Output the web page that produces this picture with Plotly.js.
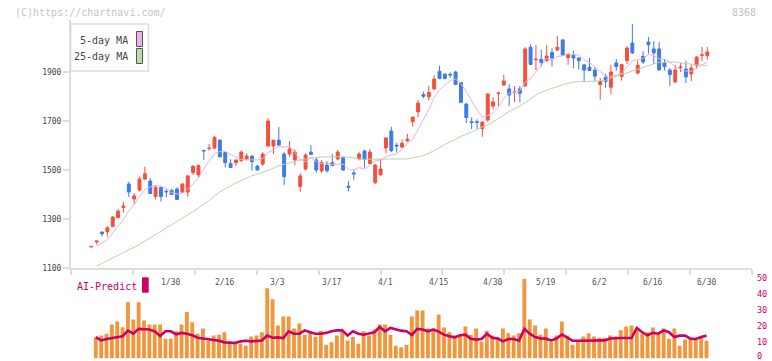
<!DOCTYPE html>
<html>
<head>
<meta charset="utf-8">
<script src="https://cdn.plot.ly/plotly-3.0.1.min.js"></script>
<style>
  html, body { margin: 0; padding: 0; background: #ffffff; }
  #chart { width: 772px; height: 361px; }
</style>
</head>
<body>
<div id="chart"></div>
<script>
// ---- daily prices (oldest first) ----
const openPx = [1186,1206,1247,1248,1269,1305,1347,1443,1382,1418,1463,1455,1392,1429,1413,1416,1422,1410,1410,1489,
  1480,1580,1587,1589,1622,1571,1527,1530,1539,1545,1557,1516,1524,1598,1598,1622,1565,1565,1541,1432,
  1504,1573,1541,1496,1520,1530,1545,1550,1434,1488,1545,1578,1526,1448,1480,1590,1659,1601,1594,1620,
  1697,1737,1808,1799,1831,1903,1891,1891,1900,1857,1769,1697,1697,1669,1704,1761,1812,1847,1831,1816,
  1831,1843,2001,1950,1952,1947,1980,1990,2031,1959,1969,1957,1929,1919,1908,1849,1879,1838,1937,1882,
  1947,2018,1896,1964,2022,1994,1994,1937,1908,1859,1918,1912,1892,1927,1968,1967];
const highPx = [1189,1210,1248,1271,1312,1341,1371,1452,1406,1473,1513,1467,1439,1431,1421,1424,1429,1445,1478,1518,
  1520,1581,1606,1640,1624,1575,1544,1542,1579,1568,1559,1522,1573,1712,1622,1676,1573,1618,1584,1486,
  1568,1602,1552,1541,1537,1565,1582,1553,1455,1500,1573,1579,1586,1524,1545,1633,1677,1611,1625,1647,
  1716,1786,1820,1843,1888,1926,1895,1898,1905,1857,1775,1715,1707,1696,1813,1797,1820,1888,1850,1843,
  1843,2001,2013,2010,1991,2010,1997,2047,2035,1975,1987,1961,1933,1957,1919,1876,1892,1930,1953,1933,
  2005,2096,1947,1984,2043,2027,2022,1953,1916,1930,1937,1946,1930,1964,2002,2002];
const lowPx = [1185,1197,1228,1228,1267,1304,1326,1390,1361,1412,1459,1402,1380,1371,1388,1398,1378,1406,1391,1480,
  1471,1541,1579,1588,1551,1510,1510,1516,1532,1539,1497,1499,1516,1593,1565,1598,1439,1554,1520,1412,
  1497,1563,1489,1489,1489,1516,1539,1497,1412,1459,1539,1510,1524,1443,1477,1568,1573,1571,1589,1614,
  1677,1715,1793,1784,1827,1871,1871,1876,1847,1776,1691,1667,1667,1636,1697,1748,1759,1843,1761,1777,
  1775,1839,1929,1908,1922,1941,1922,1986,1965,1929,1915,1910,1859,1904,1862,1787,1835,1810,1906,1865,
  1933,1973,1890,1933,1975,1933,1908,1906,1843,1857,1900,1855,1862,1914,1944,1950];
const closePx = [1188,1210,1240,1264,1308,1332,1353,1410,1394,1463,1485,1404,1429,1392,1411,1400,1380,1443,1476,1516,
  1519,1578,1589,1633,1554,1530,1510,1541,1573,1557,1534,1500,1565,1700,1622,1602,1473,1586,1573,1476,
  1561,1563,1500,1530,1497,1518,1573,1500,1430,1484,1565,1543,1573,1520,1504,1631,1579,1598,1609,1626,
  1716,1773,1801,1816,1871,1873,1873,1888,1849,1776,1714,1694,1694,1696,1810,1778,1814,1863,1806,1818,
  1813,1994,1931,1952,1939,1965,1957,2001,1969,1973,1957,1946,1908,1906,1883,1862,1861,1900,1922,1930,
  1998,1978,1927,1941,2012,1978,1908,1922,1890,1908,1920,1880,1916,1961,1970,1982];

// ---- moving averages ----
const ma5 = [null,1190,1201,1216,1242,1271,1299,1333,1359,1390,1421,1431,1435,1435,1424,1407,1402,1405,1422,1443,
  1467,1506,1536,1567,1575,1577,1563,1554,1542,1542,1543,1541,1546,1571,1584,1598,1592,1597,1571,1542,
  1534,1552,1535,1526,1530,1522,1524,1524,1504,1501,1510,1504,1519,1537,1541,1554,1561,1566,1584,1609,
  1626,1664,1705,1746,1795,1827,1847,1864,1871,1852,1820,1784,1745,1715,1722,1734,1758,1792,1814,1816,
  1823,1859,1872,1902,1926,1956,1949,1963,1966,1973,1971,1969,1951,1938,1920,1901,1884,1882,1886,1895,
  1922,1946,1951,1955,1971,1967,1953,1952,1942,1921,1910,1904,1903,1917,1929,1942];
const ma25 = [null,1108,1119,1130,1140,1151,1161,1171,1182,1196,1210,1224,1238,1251,1264,1277,1290,1303,1316,1330,
  1344,1360,1377,1395,1411,1423,1436,1448,1457,1467,1477,1483,1489,1498,1507,1517,1523,1530,1537,1541,
  1545,1549,1551,1553,1554,1554,1554,1554,1552,1548,1545,1544,1544,1544,1544,1544,1544,1544,1545,1545,
  1549,1553,1559,1568,1578,1591,1604,1616,1627,1637,1646,1655,1664,1674,1685,1696,1711,1727,1739,1750,
  1761,1775,1790,1806,1818,1826,1835,1842,1848,1854,1859,1860,1862,1863,1863,1864,1866,1875,1884,1890,
  1897,1904,1912,1920,1927,1934,1940,1940,1941,1941,1937,1934,1930,1929,1928,1927];

// ---- AI-Predict panel (starts on the second session) ----
const aiBars = [13.2,14.3,15.5,21.2,23.1,19.5,35.1,24.4,35.1,23.7,21.2,21.2,21.2,12.4,12.4,17.0,21.2,29.0,22.7,15.5,
  18.7,11.1,14.3,14.9,16.4,10.7,10.7,9.2,8.0,13.7,14.3,16.4,43.9,37.0,20.6,26.3,26.3,18.7,21.8,14.9,
  17.0,13.4,17.4,8.6,10.1,14.3,17.0,11.3,13.4,9.2,17.0,14.3,18.1,21.2,21.2,14.9,8.0,7.1,8.6,26.3,
  30.0,30.0,18.7,18.7,27.5,19.3,16.4,14.3,14.3,20.0,14.9,18.7,10.7,17.4,14.3,13.2,18.7,15.8,14.3,15.8,
  50.0,24.4,20.6,14.9,18.7,10.7,14.3,23.1,14.3,8.6,10.7,13.7,15.8,13.7,13.0,13.0,14.3,13.7,17.6,20.0,
  20.6,17.4,15.5,16.4,19.3,15.1,18.7,12.4,18.7,8.0,11.8,11.8,11.8,13.0,11.1];
const aiLine = [13.4,11.3,12.2,12.8,13.4,13.9,17.4,15.5,18.5,18.1,18.1,17.0,14.1,17.0,17.0,15.1,16.0,15.5,14.5,13.0,
  12.6,12.2,11.6,11.1,10.1,10.1,9.7,10.7,11.1,10.7,10.9,11.3,14.3,13.0,13.2,12.8,17.0,15.5,15.5,17.6,
  16.4,15.5,15.5,16.0,17.0,17.6,17.6,14.3,17.0,15.5,14.9,15.8,16.4,19.7,17.0,19.1,18.1,17.4,17.0,14.7,
  18.5,18.1,17.0,18.1,16.8,14.9,13.9,13.2,14.5,14.9,12.4,11.8,12.2,15.5,13.0,12.6,10.7,12.2,12.2,11.1,
  18.5,15.5,13.4,12.6,12.4,11.3,12.5,15.0,13.0,11.1,11.1,11.1,11.1,11.1,11.1,11.3,12.5,12.8,12.8,12.8,
  12.8,19.1,16.4,14.5,16.0,15.5,17.6,16.4,13.4,14.3,14.3,12.4,12.2,13.4,14.3];
const aiScale = [0, 10, 20, 30, 40, 50];

// ---- date labels under the price panel ----
const dateLabels = ['1/30','2/16','3/3','3/17','4/1','4/15','4/30','5/19','6/2','6/16','6/30'];
const dateIndex  = [15,25,35,45,55,65,75,85,95,105,115];

// ---- page geometry helpers (pixel -> paper) ----
const W = 772, H = 361;
const fx = p => p / W;
const fy = p => 1 - p / H;

const idx = openPx.map((_, i) => i);
const aiIdx = aiBars.map((_, k) => k + 1);

const MONO = 'DejaVu Sans Mono, Liberation Mono, monospace';
const RED = '#f2503c', BLUE = '#3d7be8';
const PINK = '#e6b0e6', GREEN = '#b2d9a2';
const MAGENTA = '#cc0066', ORANGE = '#f0963c';

// x range of the price panel: candle i sits at 91.3 + 5.357*i px, plot spans 71..752 px
const step = 5.357, x0px = 91.3;
const xr = [(71 - x0px) / step, (752 - x0px) / step];
const xr2 = [xr[0] + 0.16, xr[1] + 0.16];
const gridTicks = [];
for (let k = 0; k <= 11; k++) gridTicks.push(xr[0] + (xr[1] - xr[0]) * k / 11);

// lower panel: value 0 sits at 358.5 px, 50 at 278.5 px
const lowBase = 358.5, lowTop = 278.5;

const traces = [
  {
    type: 'candlestick', x: idx, open: openPx, high: highPx, low: lowPx, close: closePx,
    increasing: { line: { color: RED, width: 1 }, fillcolor: RED },
    decreasing: { line: { color: BLUE, width: 1 }, fillcolor: BLUE },
    whiskerwidth: 0, hoverinfo: 'skip', showlegend: false, xaxis: 'x', yaxis: 'y'
  },
  { type: 'scatter', mode: 'lines', x: idx, y: ma25, line: { color: GREEN, width: 1 },
    hoverinfo: 'skip', showlegend: false, xaxis: 'x', yaxis: 'y' },
  { type: 'scatter', mode: 'lines', x: idx, y: ma5, line: { color: PINK, width: 1 },
    hoverinfo: 'skip', showlegend: false, xaxis: 'x', yaxis: 'y' },
  { type: 'bar', x: aiIdx, y: aiBars, width: 0.72, marker: { color: ORANGE, line: { width: 0 } },
    hoverinfo: 'skip', showlegend: false, xaxis: 'x2', yaxis: 'y2' },
  { type: 'scatter', mode: 'lines', x: aiIdx, y: aiLine, line: { color: MAGENTA, width: 2.6 },
    hoverinfo: 'skip', showlegend: false, xaxis: 'x2', yaxis: 'y2' }
];

const annotations = [
  { text: '(C)https://chartnavi.com/', xref: 'paper', yref: 'paper', x: fx(13), y: fy(12),
    xanchor: 'left', yanchor: 'middle', showarrow: false, font: { family: MONO, size: 10, color: '#c4c4c4' } },
  { text: '8368', xref: 'paper', yref: 'paper', x: fx(758), y: fy(12),
    xanchor: 'right', yanchor: 'middle', showarrow: false, font: { family: MONO, size: 10, color: '#c4c4c4' } },
  { text: '5-day MA', xref: 'paper', yref: 'paper', x: fx(130), y: fy(40.5),
    xanchor: 'right', yanchor: 'middle', showarrow: false, font: { family: MONO, size: 10, color: '#444' } },
  { text: '25-day MA', xref: 'paper', yref: 'paper', x: fx(130), y: fy(56.5),
    xanchor: 'right', yanchor: 'middle', showarrow: false, font: { family: MONO, size: 10, color: '#444' } },
  { text: 'AI-Predict', xref: 'paper', yref: 'paper', x: fx(75), y: fy(286),
    xanchor: 'left', yanchor: 'middle', showarrow: false, font: { family: MONO, size: 10, color: MAGENTA } }
];
dateLabels.forEach((t, j) => annotations.push({
  text: t, xref: 'x2', yref: 'paper', x: dateIndex[j], y: fy(282.5),
  xanchor: 'center', yanchor: 'middle', showarrow: false, font: { family: MONO, size: 8, color: '#555' }
}));
// right-hand scale of the lower panel (the bottom label is nudged up to stay on the page)
aiScale.forEach(v => {
  const yPx = Math.min(lowBase - (lowBase - lowTop) * v / 50 - 0.3, 355.6);
  annotations.push({
    text: String(v), xref: 'paper', yref: 'paper', x: fx(755), y: fy(yPx),
    xanchor: 'left', yanchor: 'middle', showarrow: false, font: { family: MONO, size: 8.5, color: MAGENTA }
  });
});

const shapes = [
  { type: 'rect', xref: 'paper', yref: 'paper', x0: fx(70.7), x1: fx(148.3), y0: fy(24), y1: fy(71),
    line: { color: '#dddddd', width: 1.5 }, fillcolor: '#ffffff', layer: 'above' },
  { type: 'rect', xref: 'paper', yref: 'paper', x0: fx(136.5), x1: fx(142.5), y0: fy(31.5), y1: fy(46.5),
    line: { color: '#555555', width: 1 }, fillcolor: '#e8b4e8', layer: 'above' },
  { type: 'rect', xref: 'paper', yref: 'paper', x0: fx(136.5), x1: fx(142.5), y0: fy(48.5), y1: fy(63.5),
    line: { color: '#555555', width: 1 }, fillcolor: '#b8dcaa', layer: 'above' },
  { type: 'rect', xref: 'paper', yref: 'paper', x0: fx(142), x1: fx(148.7), y0: fy(277.3), y1: fy(292.7),
    line: { width: 0 }, fillcolor: MAGENTA, layer: 'above' }
];

const layout = {
  width: W, height: H,
  margin: { l: 0, r: 0, t: 0, b: 0, pad: 0 },
  paper_bgcolor: '#ffffff', plot_bgcolor: 'rgba(0,0,0,0)',
  showlegend: false,
  boxgap: 0.22,
  xaxis: {
    domain: [fx(71), fx(752)], range: xr, anchor: 'y',
    rangeslider: { visible: false },
    showline: true, linecolor: '#dddddd', linewidth: 2,
    ticks: 'outside', tickvals: gridTicks, ticklen: 5, tickwidth: 2, tickcolor: '#dddddd',
    showticklabels: false, showgrid: false, zeroline: false, fixedrange: true
  },
  yaxis: {
    domain: [fy(268), fy(20)], range: [1100, 1100 + 248 * 200 / 49], anchor: 'x',
    showline: true, linecolor: '#dddddd', linewidth: 2,
    ticks: 'outside', tickvals: [1100, 1300, 1500, 1700, 1900], ticklen: 6, tickwidth: 1.5, tickcolor: '#dddddd',
    tickfont: { family: MONO, size: 8, color: '#444' },
    showgrid: false, zeroline: false, fixedrange: true
  },
  xaxis2: {
    domain: [fx(71), fx(752)], range: xr2, anchor: 'y2',
    showline: false, ticks: '', showticklabels: false, showgrid: false, zeroline: false, fixedrange: true
  },
  yaxis2: {
    domain: [fy(lowBase), fy(lowTop)], range: [0, 50], anchor: 'x2', side: 'right',
    showline: false, ticks: '', showticklabels: false,
    showgrid: false, zeroline: false, fixedrange: true
  },
  annotations: annotations,
  shapes: shapes
};

Plotly.newPlot('chart', traces, layout, { displayModeBar: false, staticPlot: true });
</script>
</body>
</html>
